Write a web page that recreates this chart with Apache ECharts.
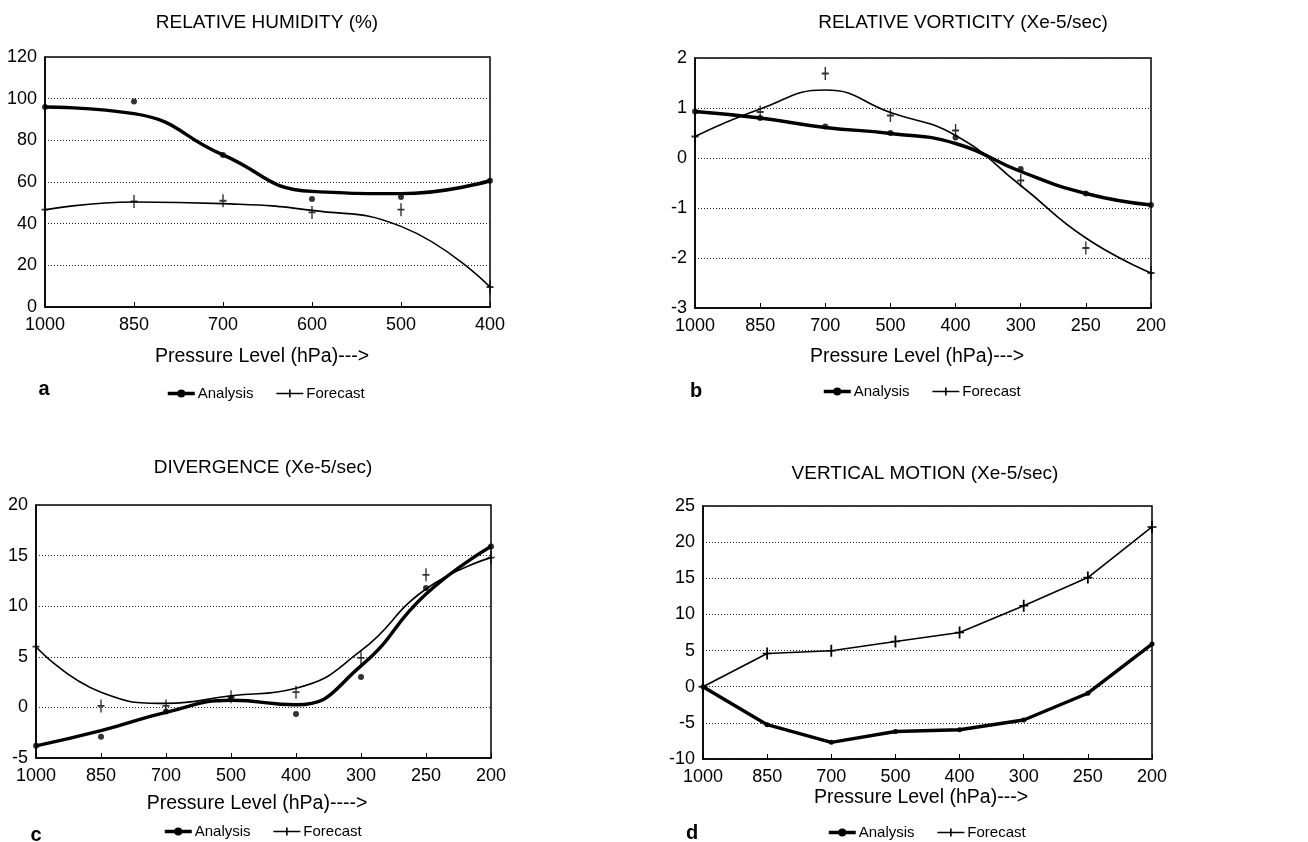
<!DOCTYPE html>
<html>
<head>
<meta charset="utf-8">
<title>Analysis vs Forecast</title>
<script src="https://cdn.jsdelivr.net/npm/echarts@6/dist/echarts.min.js"></script>
<style>
  html, body { margin: 0; padding: 0; background: #fff; }
  #chart { width: 1308px; height: 842px; }
</style>
</head>
<body>
<div id="chart"></div>
<script>
const FONT = "'Liberation Sans', Arial, sans-serif";

// pressure levels (hPa)
const levelsA = ['1000', '850', '700', '600', '500', '400'];
const levelsB = ['1000', '850', '700', '500', '400', '300', '250', '200'];

// a: relative humidity (%)
const rhAnaCurve = [96, 92.8, 73, 55.5, 54.4, 60.6];
const rhAnaPts = [96, 98.7, 73, 51.8, 52.8, 60.6];
const rhFcCurve = [46.7, 50.4, 49.6, 46.4, 38.7, 9.6];
const rhFcPts = [46.7, 50.7, 51, 45.4, 46.7, 9.6];

// b: relative vorticity (Xe-5/sec)
const vortAnaCurve = [0.93, 0.8, 0.61, 0.49, 0.29, -0.27, -0.71, -0.94];
const vortAnaPts = [0.93, 0.8, 0.63, 0.5, 0.41, -0.22, -0.71, -0.94];
const vortFcCurve = [0.43, 0.98, 1.36, 0.91, 0.45, -0.55, -1.6, -2.3];
const vortFcPts = [0.43, 0.92, 1.69, 0.85, 0.55, -0.45, -1.8, -2.3];

// c: divergence (Xe-5/sec)
const divAnaCurve = [-3.8, -2.3, -0.5, 0.7, 0.26, 4.1, 11.2, 15.9];
const divAnaPts = [-3.8, -2.9, -0.4, 0.8, -0.66, 3.0, 11.8, 15.9];
const divFcCurve = [6.0, 1.5, 0.4, 1.15, 1.9, 5.6, 11.7, 14.8];
const divFcPts = [6.0, 0.15, 0.15, 1.05, 1.5, 4.9, 13.1, 14.8];

// d: vertical motion (Xe-5/sec)
const vmAna = [0, -5.25, -7.7, -6.2, -5.95, -4.6, -0.9, 5.9];
const vmFc = [0, 4.6, 4.97, 6.26, 7.5, 11.2, 15.1, 22.1];

const crossSymbol = 'path://M3.6,0h1.8v13h-1.8zM0,5.6h9v1.8h-9z';

const panels = [
    {
        title: 'RELATIVE HUMIDITY (%)', titlePos: [267, 23],
        letter: 'a', letterPos: [44, 389],
        xName: 'Pressure Level (hPa)--->', xNamePos: [262, 357],
        grid: { left: 45, top: 57, width: 445, height: 250 },
        legend: { left: 166, top: 386 },
        levels: levelsA, yMin: 0, yMax: 120, yStep: 20,
        ana: rhAnaCurve, anaPts: rhAnaPts, fc: rhFcCurve, fcPts: rhFcPts, smooth: true
    },
    {
        title: 'RELATIVE VORTICITY (Xe-5/sec)', titlePos: [963, 23],
        letter: 'b', letterPos: [696, 391],
        xName: 'Pressure Level (hPa)--->', xNamePos: [917, 357],
        grid: { left: 695, top: 58, width: 456, height: 250 },
        legend: { left: 822, top: 384 },
        levels: levelsB, yMin: -3, yMax: 2, yStep: 1,
        ana: vortAnaCurve, anaPts: vortAnaPts, fc: vortFcCurve, fcPts: vortFcPts, smooth: true
    },
    {
        title: 'DIVERGENCE (Xe-5/sec)', titlePos: [263, 468],
        letter: 'c', letterPos: [36, 835],
        xName: 'Pressure Level (hPa)---->', xNamePos: [257, 804],
        grid: { left: 36, top: 505, width: 455, height: 253 },
        legend: { left: 163, top: 824 },
        levels: levelsB, yMin: -5, yMax: 20, yStep: 5,
        ana: divAnaCurve, anaPts: divAnaPts, fc: divFcCurve, fcPts: divFcPts, smooth: true
    },
    {
        title: 'VERTICAL MOTION (Xe-5/sec)', titlePos: [925, 474],
        letter: 'd', letterPos: [692, 833],
        xName: 'Pressure Level (hPa)--->', xNamePos: [921, 798],
        grid: { left: 703, top: 506, width: 449, height: 253 },
        legend: { left: 827, top: 825 },
        levels: levelsB, yMin: -10, yMax: 25, yStep: 5,
        ana: vmAna, anaPts: null, fc: vmFc, fcPts: null, smooth: false
    }
];

const option = {
    backgroundColor: '#ffffff',
    animation: false,
    textStyle: { fontFamily: FONT, color: '#000' },
    grid: [], xAxis: [], yAxis: [], legend: [], series: [], graphic: []
};

panels.forEach((p, i) => {
    option.grid.push(Object.assign({
        show: true, borderColor: '#000', borderWidth: 1.5, backgroundColor: 'transparent'
    }, p.grid));

    option.xAxis.push({
        type: 'category', gridIndex: i, data: p.levels, boundaryGap: false,
        axisLine: { onZero: false, lineStyle: { color: '#000', width: 1.5 } },
        axisTick: { inside: true, length: 5, lineStyle: { color: '#000' } },
        axisLabel: { color: '#000', fontSize: 18, fontFamily: FONT, margin: 9 },
        splitLine: { show: false }
    });

    option.yAxis.push({
        type: 'value', gridIndex: i, min: p.yMin, max: p.yMax, interval: p.yStep,
        axisLine: { show: true, onZero: false, lineStyle: { color: '#000', width: 1.5 } },
        axisTick: { show: false },
        axisLabel: { color: '#000', fontSize: 18, fontFamily: FONT, margin: 8 },
        splitLine: { show: true, lineStyle: { color: '#222', width: 1, type: [1, 2] } }
    });

    option.legend.push({
        left: p.legend.left, top: p.legend.top, orient: 'horizontal',
        padding: 0, itemWidth: 27, itemHeight: 10, itemGap: 22,
        data: [
            { name: 'Analysis', lineStyle: { width: 3.5 } },
            { name: 'Forecast', lineStyle: { width: 1.5 } }
        ],
        textStyle: { fontSize: 15, fontFamily: FONT, color: '#000', padding: [0, 0, 0, -2] },
        selectedMode: false
    });

    option.series.push({
        name: 'Analysis', type: 'line', xAxisIndex: i, yAxisIndex: i,
        data: p.ana, smooth: p.smooth,
        showSymbol: !p.smooth, symbol: 'circle', symbolSize: 5,
        lineStyle: { color: '#000', width: 3.4 },
        itemStyle: { color: '#000' }, z: 3
    });
    option.series.push({
        name: 'Forecast', type: 'line', xAxisIndex: i, yAxisIndex: i,
        data: p.fc, smooth: p.smooth,
        showSymbol: !p.smooth, symbol: crossSymbol, symbolSize: [9, 12],
        lineStyle: { color: '#000', width: 1.6 },
        itemStyle: { color: '#000' }, z: 3
    });
    if (p.anaPts) {
        option.series.push({
            name: 'Analysis', type: 'scatter', xAxisIndex: i, yAxisIndex: i,
            data: p.anaPts, symbol: 'circle', symbolSize: 6,
            itemStyle: { color: '#000' }, z: 4
        });
    }
    if (p.fcPts) {
        option.series.push({
            name: 'Forecast', type: 'scatter', xAxisIndex: i, yAxisIndex: i,
            data: p.fcPts, symbol: crossSymbol, symbolSize: [7, 13],
            itemStyle: { color: '#000' }, z: 4
        });
    }

    option.graphic.push({
        type: 'text', x: p.titlePos[0], y: p.titlePos[1],
        style: { text: p.title, fontSize: 19, fontFamily: FONT, fill: '#000', textAlign: 'center', textVerticalAlign: 'middle' }
    });
    option.graphic.push({
        type: 'text', x: p.xNamePos[0], y: p.xNamePos[1],
        style: { text: p.xName, fontSize: 19.5, fontFamily: FONT, fill: '#000', textAlign: 'center', textVerticalAlign: 'middle' }
    });
    option.graphic.push({
        type: 'text', x: p.letterPos[0], y: p.letterPos[1],
        style: { text: p.letter, fontSize: 20, fontWeight: 'bold', fontFamily: FONT, fill: '#000', textAlign: 'center', textVerticalAlign: 'middle' }
    });
});

const myChart = echarts.init(document.getElementById('chart'));
myChart.setOption(option);
window.addEventListener('resize', () => myChart.resize());
</script>
</body>
</html>
